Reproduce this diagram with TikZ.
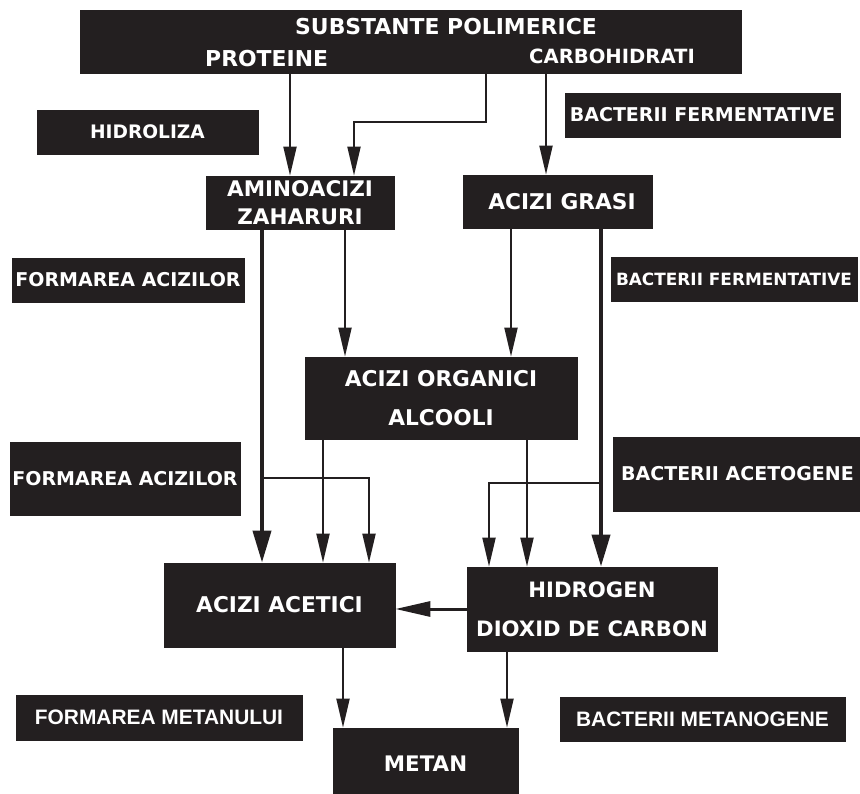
\documentclass[tikz,border=0pt]{standalone}
\usepackage{fontspec}
\setmainfont{DejaVu Sans}
\newfontfamily\libfont{Liberation Sans}
\usetikzlibrary{arrows.meta}
\definecolor{boxc}{HTML}{231F20}
\tikzset{
  box/.style={fill=boxc, draw=boxc, line width=0.8pt, inner sep=0pt, text=white, align=center},
  fmain/.style={font={\fontsize{21.7}{39}\selectfont\bfseries}},
  flab/.style={font={\fontsize{19}{24}\selectfont\bfseries}},
  ftxt/.style={inner sep=0pt, text=white},
  thinarr/.style={draw=boxc, line width=2pt, -{Triangle[length=29pt, width=13pt]}},
  sidearr/.style={draw=boxc, line width=3pt, -{Triangle[length=35pt, width=15pt]}},
  thickarr/.style={draw=boxc, line width=4pt, -{Triangle[length=32pt, width=18pt]}},
}
\begin{document}
\begin{tikzpicture}[x=1pt, y=-1pt]
\useasboundingbox (0,0) rectangle (860,794);
% boxes
\node[box, minimum width=661pt, minimum height=63pt] (top) at (410.5,41.5) {};
\node[ftxt, anchor=west, font={\fontsize{21.9}{24}\selectfont\bfseries}] (tsub) at (295,27) {SUBSTANTE POLIMERICE};
\node[ftxt, anchor=west, font={\fontsize{21.9}{24}\selectfont\bfseries}] (tprot) at (205,59) {PROTEINE};
\node[ftxt, anchor=west, font={\fontsize{19.6}{24}\selectfont\bfseries}] (tcarb) at (529,56) {CARBOHIDRATI};

\node[box, font={\fontsize{18.6}{24}\selectfont\bfseries}, minimum width=221pt, minimum height=44pt] (hidro) at (147.5,132) {HIDROLIZA};
\node[box, flab, minimum width=275pt, minimum height=44pt] (bf1) at (702.5,115) {BACTERII FERMENTATIVE};
\node[box, font={\fontsize{21.5}{28}\selectfont\bfseries}, minimum width=188pt, minimum height=53pt] (amino) at (300,202.5) {AMINOACIZI\\ZAHARURI};
\node[box, fmain, minimum width=189pt, minimum height=53pt] (grasi) at (557.5,201.5) {\hspace*{9pt}ACIZI GRASI};
\node[box, flab, minimum width=232pt, minimum height=44pt] (fa1) at (128,280) {FORMAREA ACIZILOR};
\node[box, font={\fontsize{16.9}{24}\selectfont\bfseries}, minimum width=246pt, minimum height=44pt] (bf2) at (734,279) {BACTERII FERMENTATIVE};
\node[box, fmain, minimum width=272pt, minimum height=82pt] (org) at (441,398) {ACIZI ORGANICI\\ALCOOLI};
\node[box, flab, minimum width=230pt, minimum height=73pt] (fa2) at (125,478.5) {FORMAREA ACIZILOR};
\node[box, flab, minimum width=249pt, minimum height=74pt] (ba) at (737.5,474) {BACTERII ACETOGENE};
\node[box, fmain, minimum width=231pt, minimum height=84pt] (acet) at (279.5,605) {ACIZI ACETICI};
\node[box, font={\fontsize{21.2}{39}\selectfont\bfseries}, minimum width=250pt, minimum height=84pt] (hidrog) at (592,609) {HIDROGEN\\DIOXID DE CARBON};
\node[box, font={\libfont\fontsize{20.9}{24}\selectfont\bfseries}, minimum width=286pt, minimum height=45pt] (fm) at (159,717.5) {FORMAREA METANULUI};
\node[box, font={\libfont\fontsize{20.9}{24}\selectfont\bfseries}, minimum width=285pt, minimum height=44pt] (bm) at (702.5,719) {BACTERII METANOGENE};
\node[box, font={\fontsize{21.4}{24}\selectfont\bfseries}, minimum width=185pt, minimum height=72pt] (metan) at (425.5,764) {METAN};

% connectors
\coordinate (b1) at (486,122);
\coordinate (b2) at (354,122);
\coordinate (c1) at (262,478);
\coordinate (c2) at (369,478);
\coordinate (d1) at (601,483);
\coordinate (d2) at (489,483);

\draw[thinarr] (290,0 |- top.south) -- (290,0 |- amino.north);
\draw[thinarr] (486,0 |- top.south) -- (b1) -- (b2) -- (354,0 |- amino.north);
\draw[thinarr] (546,0 |- top.south) -- (546,0 |- grasi.north);

\draw[thickarr] (262,0 |- amino.south) -- (262,0 |- acet.north);
\draw[thinarr] (345,0 |- amino.south) -- (345,0 |- org.north);
\draw[thinarr] (511,0 |- grasi.south) -- (511,0 |- org.north);
\draw[thickarr] (601,0 |- grasi.south) -- (601,0 |- hidrog.north);

\draw[thinarr] (323,0 |- org.south) -- (323,0 |- acet.north);
\draw[thinarr] (c1) -- (c2) -- (369,0 |- acet.north);
\draw[thinarr] (527,0 |- org.south) -- (527,0 |- hidrog.north);
\draw[thinarr] (d1) -- (d2) -- (489,0 |- hidrog.north);

\draw[sidearr] (hidrog.west) -- (hidrog.west -| acet.east);

\draw[thinarr] (343,0 |- acet.south) -- (343,0 |- metan.north);
\draw[thinarr] (507,0 |- hidrog.south) -- (507,0 |- metan.north);
\end{tikzpicture}
\end{document}
